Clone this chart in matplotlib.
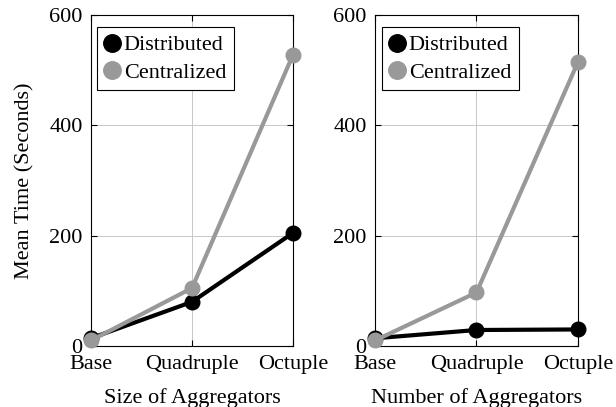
import matplotlib.pyplot as plt
import matplotlib as mpl

# ── Data ──────────────────────────────────────────────────────────────────────
scales = ["Base", "Quadruple", "Octuple"]

size_distributed = [14, 80, 205]
size_centralized = [10, 105, 528]

count_distributed = [14, 29, 30]
count_centralized = [10, 97, 515]

yticks = [0, 200, 400, 600]

# ── Style ─────────────────────────────────────────────────────────────────────
plt.rcParams.update({
    "font.family": "Liberation Serif",
    "font.size": 16,
    "axes.linewidth": 0.8,
    "xtick.direction": "in",
    "ytick.direction": "in",
    "xtick.top": True,
    "ytick.right": True,
    "xtick.major.size": 4,
    "ytick.major.size": 4,
    "xtick.major.pad": 6.5,
    "ytick.major.pad": 6,
})

DARK = "#000000"
LIGHT = "#999999"


def draw_panel(ax, distributed, centralized, xlabel, leg_dx):
    x = range(len(scales))
    ax.plot(x, distributed, color=DARK, lw=3, marker="o", ms=10.5,
            label="Distributed", zorder=3, clip_on=False)
    ax.plot(x, centralized, color=LIGHT, lw=3, marker="o", ms=10.5,
            label="Centralized", zorder=4, clip_on=False)
    ax.set_xlim(0, len(scales) - 1)
    ax.set_ylim(0, 600)
    ax.set_xticks(list(x))
    ax.set_xticklabels(scales)
    ax.set_yticks(yticks)
    ax.grid(True, color="#c8c8c8", lw=0.7)
    ax.set_axisbelow(True)
    ax.set_xlabel(xlabel, labelpad=10)
    leg = ax.legend(loc="upper left", bbox_to_anchor=(leg_dx, 1 - 12 / 331),
                    borderaxespad=0, handlelength=0.65, handletextpad=0.2,
                    borderpad=0.35, labelspacing=0.3, fancybox=False,
                    framealpha=1, edgecolor="black", markerscale=1.2)
    leg.get_frame().set_linewidth(0.8)
    for h in leg.legend_handles:
        h.set_linestyle("none")


fig = plt.figure(figsize=(6.16, 4.07), dpi=100)
ax1 = fig.add_axes([91 / 616, 1 - 346 / 407, 202 / 616, 331 / 407])
ax2 = fig.add_axes([375 / 616, 1 - 346 / 407, 203 / 616, 331 / 407])

draw_panel(ax1, size_distributed, size_centralized, "Size of Aggregators", 6 / 202)
draw_panel(ax2, count_distributed, count_centralized, "Number of Aggregators", 7 / 203)
ax1.set_ylabel("Mean Time (Seconds)", labelpad=11)

fig.savefig("out.png", dpi=100)
